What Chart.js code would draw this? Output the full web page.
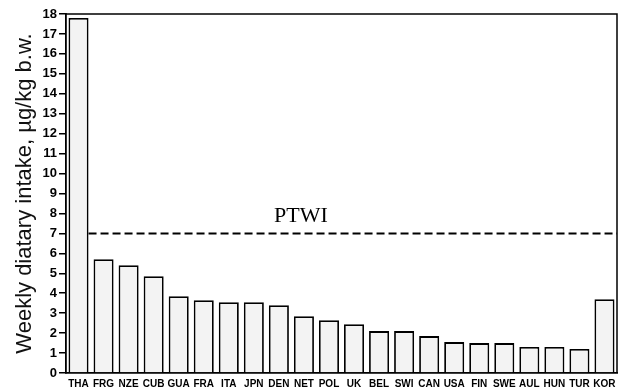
<!DOCTYPE html>
<html>
<head>
<meta charset="utf-8">
<script src="https://cdn.jsdelivr.net/npm/chart.js@4.4.0/dist/chart.umd.min.js"></script>
<style>
    html, body { margin: 0; padding: 0; background: #fff; }
</style>
</head>
<body>
<canvas id="weekly_intake_chart" width="624" height="390"></canvas>
<script>
// countries, in the order of the figure
const countries = ['THA', 'FRG', 'NZE', 'CUB', 'GUA', 'FRA', 'ITA', 'JPN', 'DEN', 'NET', 'POL',
    'UK', 'BEL', 'SWI', 'CAN', 'USA', 'FIN', 'SWE', 'AUL', 'HUN', 'TUR', 'KOR'];

// weekly dietary intake, ug/kg b.w.
const weekly_intake = [17.8, 5.7, 5.4, 4.85, 3.85, 3.65, 3.55, 3.55, 3.4, 2.85, 2.65,
    2.45, 2.1, 2.1, 1.85, 1.55, 1.5, 1.5, 1.3, 1.3, 1.2, 3.7];

const ptwi_value = 7;
const ptwi_label = 'PTWI';
const y_title = 'Weekly diatary intake, \u00b5g/kg b.w.';

Chart.defaults.font.family = '"Liberation Sans", Arial, sans-serif';
Chart.defaults.color = '#000';

// top/right frame and the dashed PTWI line
const frame_and_ptwi = {
    id: 'frame_and_ptwi',
    afterDatasetsDraw(chart) {
        const ctx = chart.ctx;
        const area = chart.chartArea;
        ctx.save();
        ctx.strokeStyle = '#000';
        ctx.lineWidth = 1.5;
        ctx.beginPath();
        ctx.moveTo(area.left, area.top);
        ctx.lineTo(area.right, area.top);
        ctx.lineTo(area.right, area.bottom);
        ctx.stroke();

        // the line starts at the right edge of the first bar
        const first_bar = chart.getDatasetMeta(0).data[0];
        const line_y = chart.scales.y.getPixelForValue(ptwi_value);
        ctx.setLineDash([8, 4]);
        ctx.lineWidth = 2;
        ctx.beginPath();
        ctx.moveTo(first_bar.x + first_bar.width / 2, line_y);
        ctx.lineTo(area.right, line_y);
        ctx.stroke();
        ctx.setLineDash([]);

        ctx.font = '22px "Liberation Serif", "Times New Roman", serif';
        ctx.fillStyle = '#000';
        ctx.textAlign = 'center';
        ctx.textBaseline = 'alphabetic';
        ctx.fillText(ptwi_label, 301, line_y - 11);
        ctx.restore();
    }
};

let intake_canvas = document.getElementById('weekly_intake_chart').getContext('2d');
let weekly_intake_chart = new Chart(intake_canvas, {
    type: 'bar',
    data: {
        labels: countries,
        datasets: [{
            data: weekly_intake,
            backgroundColor: '#f3f3f3',
            borderColor: '#000',
            borderWidth: 1.8,
            barPercentage: 0.8,
            categoryPercentage: 1.0,
        }]
    },
    options: {
        responsive: false,
        animation: false,
        layout: {
            padding: { top: 14, right: 7, bottom: 0, left: 0 },
        },
        scales: {
            x: {
                afterFit: function (scale) {
                    scale.height = 17;
                },
                grid: {
                    display: true,
                    drawOnChartArea: false,
                    drawTicks: false,
                },
                border: { color: '#000', width: 1.8 },
                ticks: {
                    padding: 5,
                    maxRotation: 0,
                    autoSkip: false,
                    font: { size: 10, weight: 'bold' },
                },
            },
            y: {
                min: 0,
                max: 18,
                afterFit: function (scale) {
                    scale.width = 66;
                },
                grid: {
                    drawOnChartArea: false,
                    tickLength: 7,
                    color: '#000',
                    lineWidth: 1.5,
                },
                border: { color: '#000', width: 1.8 },
                ticks: {
                    stepSize: 1,
                    padding: 2,
                    font: { size: 13, weight: 'bold' },
                },
                title: {
                    display: true,
                    text: y_title,
                    color: '#111',
                    font: { size: 22 },
                    padding: { top: 12, bottom: 0 },
                },
            },
        },
        plugins: {
            legend: { display: false },
            tooltip: { enabled: false },
        },
    },
    plugins: [frame_and_ptwi],
});
</script>
</body>
</html>
